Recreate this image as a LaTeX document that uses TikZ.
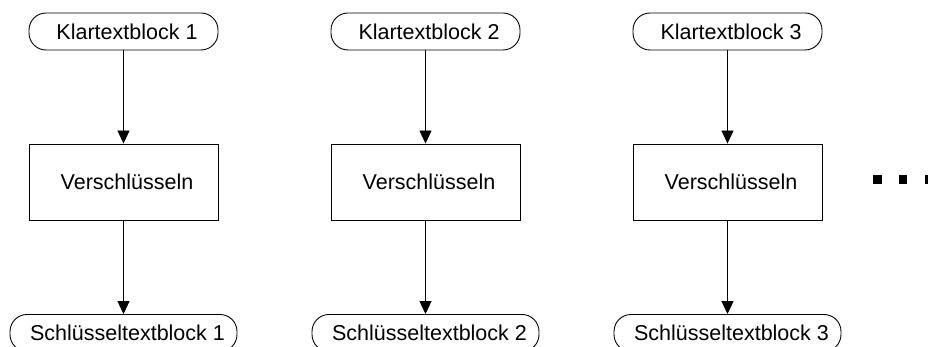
\documentclass[tikz,border=0pt]{standalone}
\usepackage{fontspec}
\setmainfont{Liberation Sans}
\usetikzlibrary{arrows.meta}
\begin{document}
\begin{tikzpicture}[x=1pt,y=-1pt,
  every node/.style={font=\fontsize{21.5}{25}\selectfont, inner sep=0pt, line width=0.9pt},
  pill/.style={draw, rounded corners=17pt, minimum height=37pt},
  toppill/.style={pill, minimum width=189pt},
  botpill/.style={pill, minimum width=227pt},
  cipherbox/.style={draw, minimum width=189pt, minimum height=76pt},
  flow/.style={line width=0.9pt, -{Triangle[width=12pt,length=13pt]}},
  dot/.style={fill=black, draw=none, minimum size=8.5pt}]
\clip (0,0) rectangle (928,347);

% three encryption columns
\foreach \i/\cx in {1/123.5, 2/425.5, 3/727.5}{
  \node[toppill]   (k\i) at (\cx,31.5)  {\hspace*{7pt}Klartextblock \i};
  \node[cipherbox] (v\i) at (\cx,182)   {\hspace*{7pt}Verschlüsseln};
  \node[botpill]   (s\i) at (\cx,333)   {\hspace*{8pt}Schlüsseltextblock \i};
  \draw[flow] (k\i) -- (v\i);
  \draw[flow] (v\i) -- (s\i);
}

% continuation marks
\node[dot] (dotA) at (877.5,179.5) {};
\node[dot] (dotB) at (903,179.5) {};
\node[dot] (dotC) at (929.5,179.5) {};
\end{tikzpicture}
\end{document}
